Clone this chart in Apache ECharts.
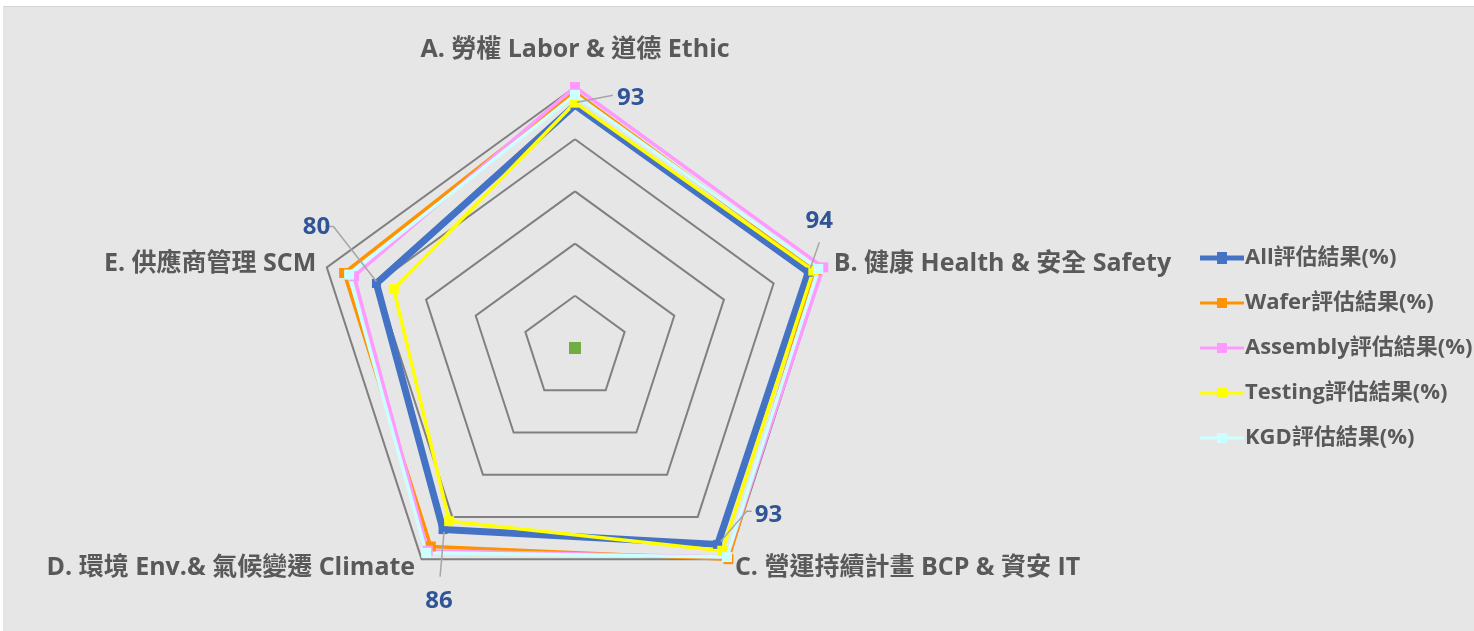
<!DOCTYPE html>
<html>
<head>
<meta charset="utf-8">
<script src="https://cdn.jsdelivr.net/npm/echarts@6/dist/echarts.min.js"></script>
<style>
  html, body { margin: 0; padding: 0; background: #fff; }
  #chart { position: absolute; left: 3px; top: 6px; width: 1471px; height: 625px; background: #e6e6e6; border-top: 1px solid #d6d6d6; }
</style>
</head>
<body>
<div id="chart"></div>
<script>
// axes in clockwise order, starting at the top
var axes = ['A. 勞權 Labor & 道德 Ethic', 'B. 健康 Health & 安全 Safety', 'C. 營運持續計畫 BCP & 資安 IT', 'D. 環境 Env.& 氣候變遷 Climate', 'E. 供應商管理 SCM'];
var seriesNames = ['All評估結果(%)', 'Wafer評估結果(%)', 'Assembly評估結果(%)', 'Testing評估結果(%)', 'KGD評估結果(%)'];
var allVals = [93, 94, 93, 86, 80];
var waferVals = [98, 97, 100, 94, 93];
var assemblyVals = [100, 100, 99, 96, 89];
var testingVals = [94, 96, 96, 82, 73];
var kgdVals = [97, 98, 99, 97, 91];
var centerVals = [0, 0, 0, 0, 0];
var maxVal = 100;

var colors = ['#4472c4', '#ff9200', '#ff99ff', '#ffff00', '#ccffff'];
var widths = [7, 3.5, 3.5, 3.5, 3.5];
var values = [allVals, waferVals, assemblyVals, testingVals, kgdVals];

// echarts lays indicators out counter-clockwise, so flip B..E
var order = [0, 4, 3, 2, 1];
function reorder(arr) { return order.map(function (i) { return arr[i]; }); }

var chart = echarts.init(document.getElementById('chart'));
var font = '"Open Sans", "Noto Sans CJK TC", sans-serif';
var cx = 572, cy = 341, radius = 261;

var series = [];
for (var i = 0; i < seriesNames.length; i++) {
    series.push({
        type: 'radar',
        name: seriesNames[i],
        symbol: 'rect',
        symbolSize: i === 0 ? 9 : 10,
        itemStyle: { color: colors[i] },
        lineStyle: { color: colors[i], width: widths[i] },
        data: [{ value: reorder(values[i]), name: seriesNames[i] }]
    });
}
series.push({
    type: 'radar',
    name: 'center',
    symbol: 'rect',
    symbolSize: 12,
    itemStyle: { color: '#70ad47' },
    lineStyle: { width: 0 },
    data: [{ value: centerVals, name: 'center' }]
});

var legendIcons = [
    'path://M0,3.5h44v5h-44z M17,0h10v12h-10z',
    'path://M0,4.5h44v3h-44z M17,1h10v10h-10z'
];

var option = {
    animation: false,
    textStyle: { fontFamily: font },
    legend: {
        orient: 'vertical',
        left: 1192,
        top: 235,
        itemWidth: 44,
        itemHeight: 12,
        itemGap: 23,
        textStyle: { color: '#595959', fontSize: 22, fontWeight: 'bold', fontFamily: font, padding: [0, 0, 0, -4] },
        data: seriesNames.map(function (n, i) {
            return { name: n, icon: i === 0 ? legendIcons[0] : legendIcons[1] };
        })
    },
    radar: {
        center: [cx, cy],
        radius: radius,
        shape: 'polygon',
        splitNumber: 5,
        nameGap: 11,
        axisName: {
            color: '#595959', fontSize: 25, fontWeight: 'bold', fontFamily: font,
            formatter: function (name) {
                return name === axes[0] ? '{top|' + name + '}' : name;
            },
            rich: {
                top: { color: '#595959', fontSize: 25, fontWeight: 'bold', fontFamily: font, padding: [0, 0, 14, 0] }
            }
        },
        indicator: reorder(axes).map(function (n) { return { name: n, min: 0, max: maxVal }; }),
        axisLine: { show: false },
        splitArea: { show: false },
        splitLine: { lineStyle: { color: '#808080', width: 2 } }
    },
    series: series
};
chart.setOption(option);

// data labels for the "All" series, with leader lines
var labelLayout = [
    { lab: [42, -7], align: 'left', line: [[2, -3], [38, -10]] },
    { lab: [11, -51], align: 'center', line: [[2, -4], [11, -30]] },
    { lab: [37, -29], align: 'left', line: [[3, -3], [29, -33], [34, -33]] },
    { lab: [-4, 72], align: 'center', line: [[1, 2], [-3, 47]] },
    { lab: [-60, -56], align: 'center', line: [[0, -2], [-43, -57], [-51, -57]] }
];

var radarCs = null;
try { radarCs = chart.getModel().getComponent('radar', 0).coordinateSystem; } catch (e) {}

function vertex(axisIdx, v) {
    var idx = order.indexOf(axisIdx);
    if (radarCs && radarCs.dataToPoint) return radarCs.dataToPoint(v, idx);
    var ang = (90 - axisIdx * 72) * Math.PI / 180;
    var r = radius * v / maxVal;
    return [cx + r * Math.cos(ang), cy - r * Math.sin(ang)];
}

var graphics = [];
for (var k = 0; k < allVals.length; k++) {
    var p = vertex(k, allVals[k]);
    var L = labelLayout[k];
    graphics.push({
        type: 'polyline',
        z: 100,
        shape: { points: L.line.map(function (d) { return [p[0] + d[0], p[1] + d[1]]; }) },
        style: { stroke: '#a6a6a6', lineWidth: 1.5, fill: null }
    });
    graphics.push({
        type: 'text',
        z: 100,
        x: p[0] + L.lab[0],
        y: p[1] + L.lab[1],
        style: {
            text: String(allVals[k]),
            fill: '#2f5597',
            font: 'bold 24px ' + font,
            align: L.align,
            verticalAlign: 'middle'
        }
    });
}
chart.setOption({ graphic: graphics });
</script>
</body>
</html>
